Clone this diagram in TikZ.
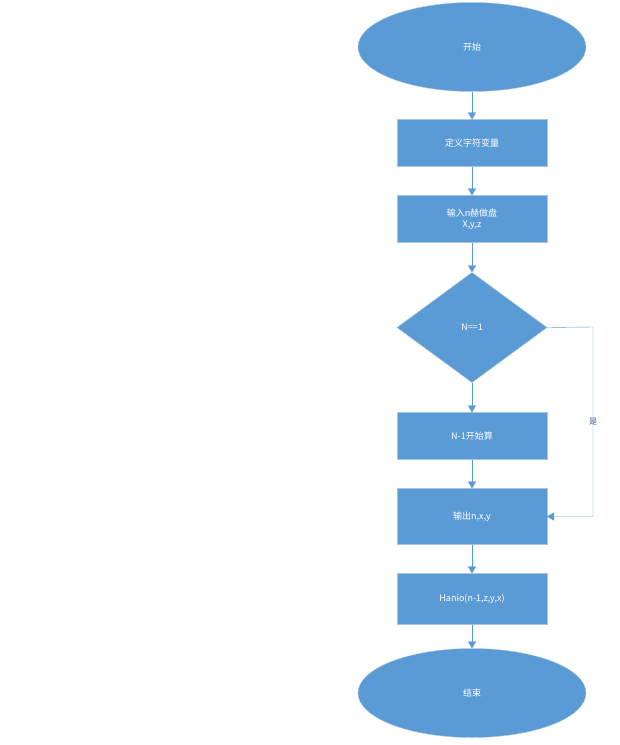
\documentclass[tikz,border=0pt]{standalone}
\usepackage{fontspec}
\setmainfont{Noto Sans CJK SC}
\usetikzlibrary{arrows.meta,positioning,shapes.geometric}
\definecolor{boxblue}{HTML}{5B9BD5}
\definecolor{boxline}{HTML}{A9C4E0}
\tikzset{
  base/.style={fill=boxblue,draw=boxline,text=white,font=\fontsize{9}{11}\selectfont,align=center,inner sep=1pt,outer sep=0pt},
  term/.style={base,ellipse,minimum width=228pt,minimum height=89pt},
  proc/.style={base,rectangle,minimum width=150pt,minimum height=47pt},
  cond/.style={base,diamond,minimum width=150pt,minimum height=110pt},
  link/.style={draw=boxblue,-{Triangle[length=7pt,width=8pt]}}
}
\begin{document}
\begin{tikzpicture}[x=1pt,y=-1pt,node distance=29pt]
\useasboundingbox (0,0) rectangle (620,745);

\node[term] (start) at (472,47) {开始};
\node[proc, below =28pt of start] (def) {定义字符变量};
\node[proc, below =of def] (input) {输入n赫做盘\\X,y,z};
\node[cond, below =30pt of input] (check) {N==1};
\node[proc, below =30pt of check] (calc) {N-1开始算};
\node[proc, below =of calc, minimum height=56pt] (out) {输出n,x,y};
\node[proc, below =of out, minimum height=51pt] (hanio) {Hanio(n-1,z,y,x)};
\node[term, below =24pt of hanio] (stop) {结束};

\draw[link] (start) to (def);
\draw[link] (def) to (input);
\draw[link] (input) to (check);
\draw[link] (check) to (calc);
\draw[link] (calc) to (out);
\draw[link] (out) to (hanio);
\draw[link] (hanio) to (stop);

\coordinate (turn) at (593,327);
\draw[link] (check.east) -- (turn) |- node[pos=0.25,fill=white,text=boxblue!60!black,font=\fontsize{8}{10}\selectfont,inner sep=1pt] (yes) {是} (out.east);

\end{tikzpicture}
\end{document}
